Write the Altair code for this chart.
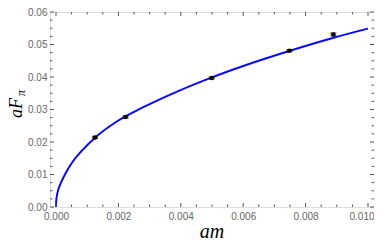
import altair as alt
import pandas as pd

# Data points (lattice results) with error bars
am = [0.00125, 0.00223, 0.00499, 0.00748, 0.00889]
afpi = [0.0214, 0.0277, 0.0397, 0.0481, 0.0531]
err = [0.0003, 0.0003, 0.0003, 0.0003, 0.0004]

# Fit curve
curve_x = [0.0, 0.00001, 0.00003, 0.00007, 0.00017, 0.00033, 0.00054, 0.00081,
           0.00126, 0.0019, 0.0028, 0.0039, 0.005, 0.006, 0.0075, 0.0089, 0.01]
curve_y = [0.0, 0.0021, 0.0035, 0.0052, 0.0077, 0.0108, 0.0140, 0.0171,
           0.0214, 0.0260, 0.0307, 0.0356, 0.0399, 0.0434, 0.0481, 0.0521, 0.0549]

# Tick positions
x_major = [0.0, 0.002, 0.004, 0.006, 0.008, 0.010]
x_minor = [0.0005, 0.001, 0.0015, 0.0025, 0.003, 0.0035, 0.0045, 0.005, 0.0055,
           0.0065, 0.007, 0.0075, 0.0085, 0.009, 0.0095]
y_major = [0.0, 0.01, 0.02, 0.03, 0.04, 0.05, 0.06]
y_minor = [0.0025, 0.005, 0.0075, 0.0125, 0.015, 0.0175, 0.0225, 0.025, 0.0275,
           0.0325, 0.035, 0.0375, 0.0425, 0.045, 0.0475, 0.0525, 0.055, 0.0575]

W, H = 324, 195
xs = alt.Scale(domain=[-0.000192, 0.010192], nice=False, zero=False)
ys = alt.Scale(domain=[0.0, 0.06], nice=False, zero=False)

pts = pd.DataFrame({"am": am, "f": afpi, "lo": [a - e for a, e in zip(afpi, err)],
                    "hi": [a + e for a, e in zip(afpi, err)]})
curve = pd.DataFrame({"am": curve_x, "f": curve_y})

x_axis = alt.Axis(values=x_major, format=".3f", ticks=False, domain=False, grid=False,
                  labelFont="Liberation Sans", labelFontSize=10, labelColor="#666666",
                  labelPadding=4, title=None,
                  labelAlign={"condition": {"test": "datum.value >= 0.0099", "value": "right"},
                              "value": "center"},
                  labelOffset={"condition": {"test": "datum.value >= 0.0099", "value": 6},
                               "value": 0})
y_axis = alt.Axis(values=y_major, format=".2f", ticks=False, domain=False, grid=False,
                  labelFont="Liberation Sans", labelFontSize=10, labelColor="#666666",
                  labelPadding=3, title=None)


def X(field):
    return alt.X(field, type="quantitative", scale=xs, axis=x_axis)


def Y(field):
    return alt.Y(field, type="quantitative", scale=ys, axis=y_axis)


line = alt.Chart(curve).mark_line(color="#0a0af0", strokeWidth=2, interpolate="monotone").encode(
    x=X("am"), y=Y("f"))

bars = alt.Chart(pts).mark_rule(color="black", strokeWidth=1.3).encode(
    x=X("am"), y=Y("lo"), y2="hi:Q")
cap_lo = alt.Chart(pts).mark_tick(color="black", thickness=1.3, size=6, orient="horizontal").encode(
    x=X("am"), y=Y("lo"))
cap_hi = alt.Chart(pts).mark_tick(color="black", thickness=1.3, size=6, orient="horizontal").encode(
    x=X("am"), y=Y("hi"))
dots = alt.Chart(pts).mark_circle(color="black", size=20, opacity=1).encode(
    x=X("am"), y=Y("f"))


def xticks(vals, length):
    d = pd.DataFrame({"v": vals})
    b = alt.Chart(d).mark_rule(color="#555555", strokeWidth=1)
    bot = b.encode(x=X("v"), y=alt.value(H), y2=alt.value(H - length))
    top = b.encode(x=X("v"), y=alt.value(0), y2=alt.value(length))
    return [bot, top]


def yticks(vals, length):
    d = pd.DataFrame({"v": vals})
    b = alt.Chart(d).mark_rule(color="#555555", strokeWidth=1)
    lef = b.encode(y=Y("v"), x=alt.value(0), x2=alt.value(length))
    rig = b.encode(y=Y("v"), x=alt.value(W), x2=alt.value(W - length))
    return [lef, rig]


tick_layers = xticks(x_major, 4) + xticks(x_minor, 2.5) + yticks(y_major, 4) + yticks(y_minor, 2.5)

ttl = pd.DataFrame({"t": ["x"]})
xtitle = alt.Chart(ttl).mark_text(font="Liberation Serif", fontStyle="italic", fontSize=20,
                                  align="center", baseline="alphabetic", color="black").encode(
    x=alt.value(W / 2), y=alt.value(226), text=alt.value("am"))
ytitle = alt.Chart(ttl).mark_text(font="Liberation Serif", fontStyle="italic", fontSize=18,
                                  align="center", baseline="alphabetic", angle=270, color="black").encode(
    x=alt.value(-28), y=alt.value(96), text=alt.value("aF"))
ysub = alt.Chart(ttl).mark_text(font="Liberation Serif", fontStyle="italic", fontSize=12,
                                align="center", baseline="alphabetic", angle=270, color="black").encode(
    x=alt.value(-25), y=alt.value(81), text=alt.value("π"))

chart = alt.layer(line, *tick_layers, bars, cap_lo, cap_hi, dots, xtitle, ytitle, ysub).properties(
    width=W, height=H,
    autosize=alt.AutoSizeParams(type="none"),
    padding={"left": 42, "top": 4, "right": 0, "bottom": 34},
).configure_view(stroke="#333333", strokeWidth=1.6).configure(background="white")

chart.save("out.html", embed_options={"renderer": "svg", "actions": False})
